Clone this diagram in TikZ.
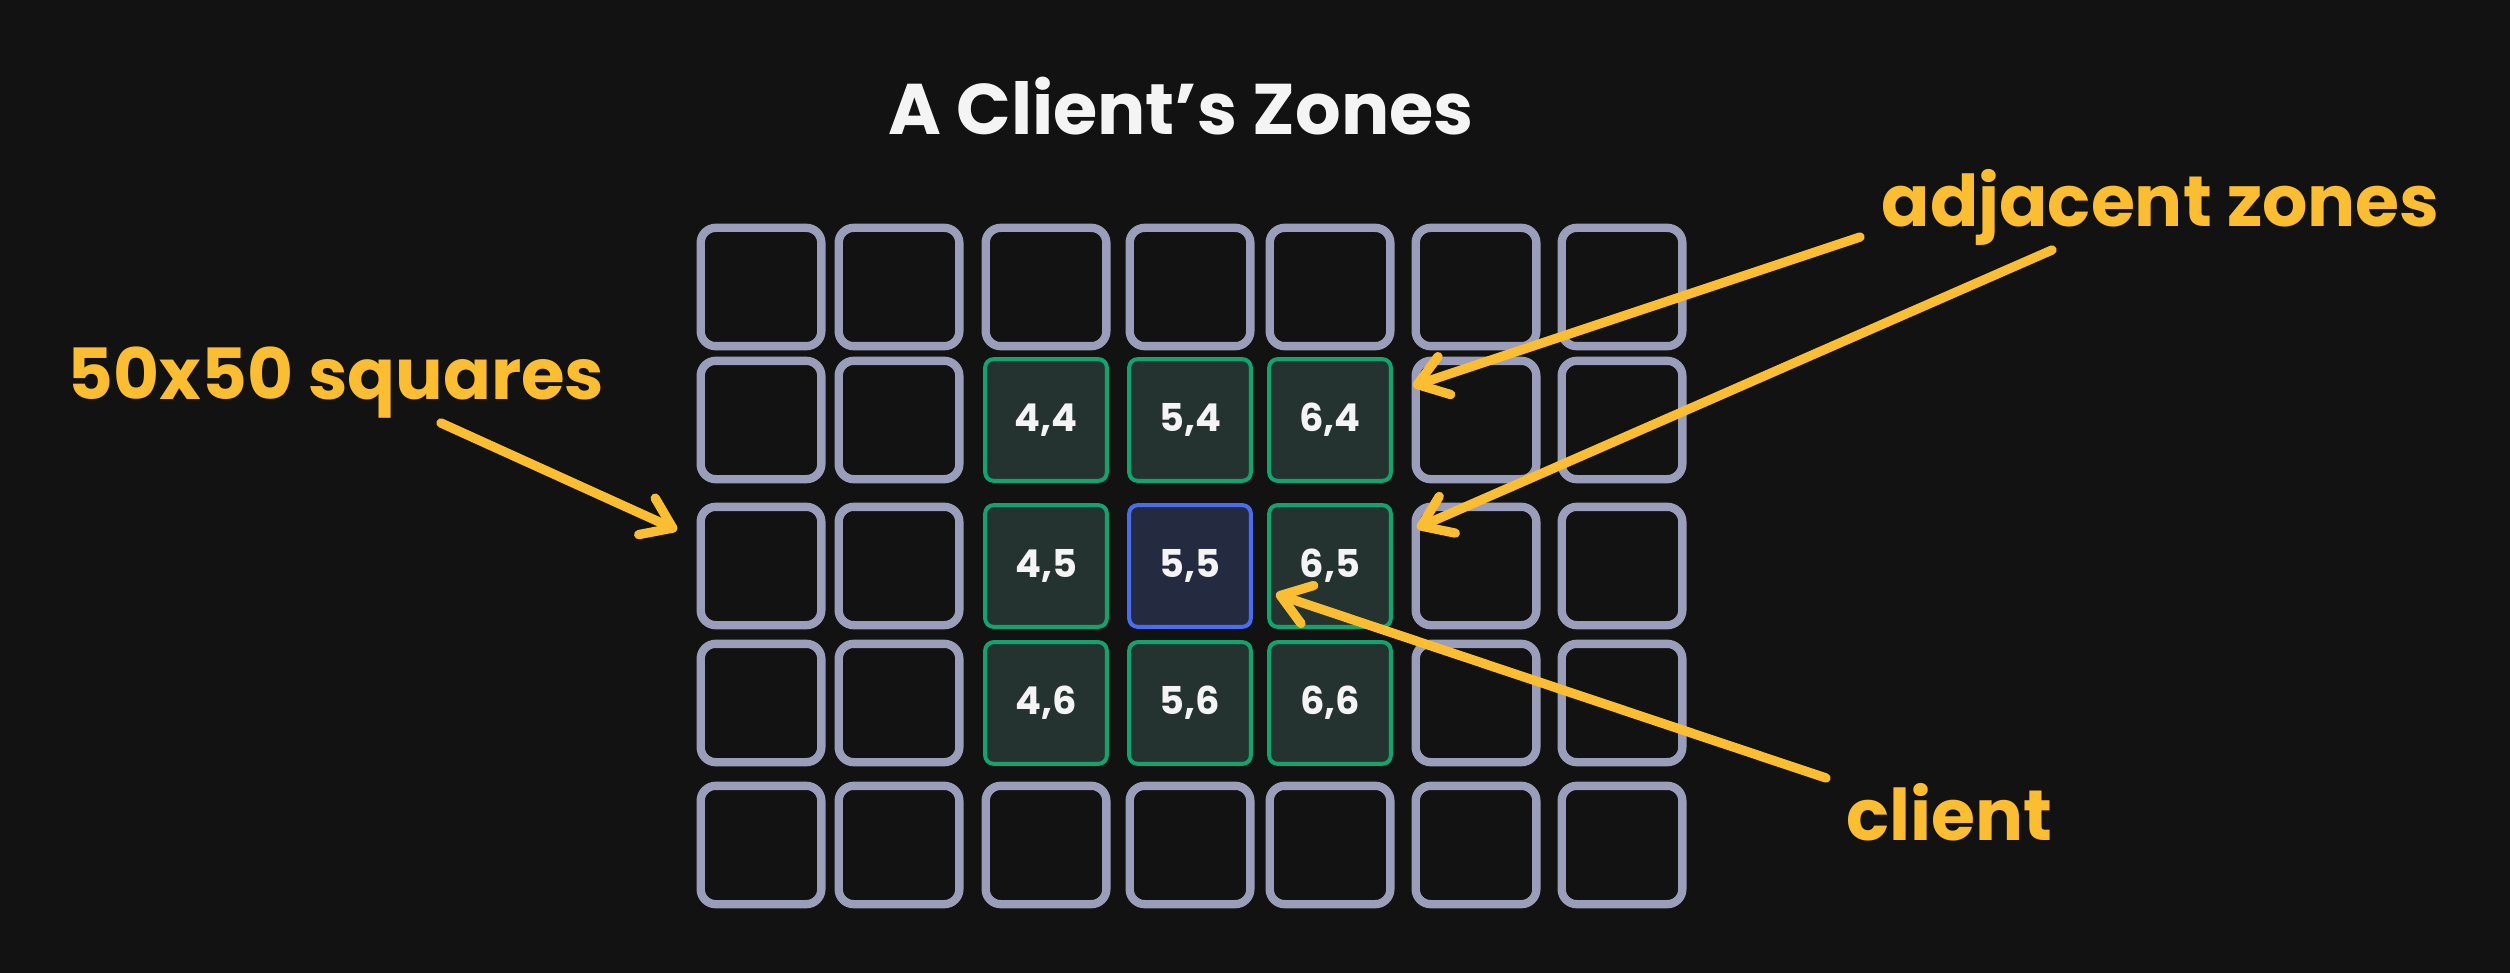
\documentclass[tikz,border=0pt]{standalone}
\usepackage{fontspec}
\setmainfont{Poppins}
\usepackage{graphicx}
\usetikzlibrary{arrows.meta}
\definecolor{bg}{HTML}{121212}
\definecolor{gridgrey}{HTML}{9B9EBB}
\definecolor{zonegreen}{HTML}{12A36E}
\definecolor{zonefill}{HTML}{253330}
\definecolor{clientblue}{HTML}{4A6CF0}
\definecolor{clientfill}{HTML}{242B40}
\definecolor{annot}{HTML}{FBBD31}
\definecolor{labelwhite}{HTML}{F4F4F4}
\begin{document}
\begin{tikzpicture}[x=0.3pt,y=-0.3pt,
  cell/.style={draw=gridgrey,line width=2.5pt,rounded corners=4.5pt,minimum width=36.2pt,minimum height=35.5pt,inner sep=0pt},
  zone/.style={draw=zonegreen,fill=zonefill,line width=1.2pt,rounded corners=2.5pt,minimum width=36.5pt,minimum height=36.5pt,inner sep=0pt,text=labelwhite,font=\bfseries\fontsize{11.5}{13}\selectfont},
  home/.style={zone,draw=clientblue,fill=clientfill},
  note/.style={text=annot,font=\bfseries,inner sep=0pt},
  heading/.style={text=labelwhite,font=\bfseries,inner sep=0pt},
  pointer/.style={draw=annot,line width=2.8pt,line cap=round,-{Straight Barb[length=8.5pt,width=12pt,line join=round,line cap=round]}}
]
\fill[bg] (0,0) rectangle (2510,973);
\useasboundingbox (0,0) rectangle (2510,973);

% plain grid cells
\foreach \c/\x in {1/761,2/899,6/1476,7/1622}
  \foreach \r/\y in {1/287,2/420,3/566,4/703,5/845}
    \node[cell] (g-\c-\r) at (\x,\y) {};
\foreach \c/\x in {3/1046,4/1190,5/1330}
  \foreach \r/\y in {1/287,5/845}
    \node[cell] (g-\c-\r) at (\x,\y) {};

% adjacent zones
\node[zone] (z44) at (1046,420) {4,4};
\node[zone] (z54) at (1190,420) {5,4};
\node[zone] (z64) at (1330,420) {6,4};
\node[zone] (z45) at (1046,566) {4,5};
\node[home] (z55) at (1190,566) {5,5};
\node[zone] (z65) at (1330,566) {6,5};
\node[zone] (z46) at (1046,703) {4,6};
\node[zone] (z56) at (1190,703) {5,6};
\node[zone] (z66) at (1330,703) {6,6};

% texts
\node[heading,anchor=base] (title) at (1181,135) {\resizebox{175.5pt}{!}{A Client's Zones}};
\node[note,anchor=base west] (sq) at (67,400) {\resizebox{161pt}{!}{50x50 squares}};
\node[note,anchor=base west] (adj) at (1881,227) {\resizebox{167.4pt}{!}{adjacent zones}};
\node[note,anchor=base west] (cli) at (1846,840) {\resizebox{61.8pt}{!}{client}};

% arrows
\coordinate (a1s) at (441,423); \coordinate (a1e) at (677,530);
\coordinate (a2s) at (1860,237); \coordinate (a2e) at (1413,386);
\coordinate (a3s) at (2052,250); \coordinate (a3e) at (1417,528);
\coordinate (a4s) at (1826,778); \coordinate (a4e) at (1276,594);
\draw[pointer] (a1s) -- (a1e);
\draw[pointer] (a2s) -- (a2e);
\draw[pointer] (a3s) -- (a3e);
\draw[pointer] (a4s) -- (a4e);
\end{tikzpicture}
\end{document}
